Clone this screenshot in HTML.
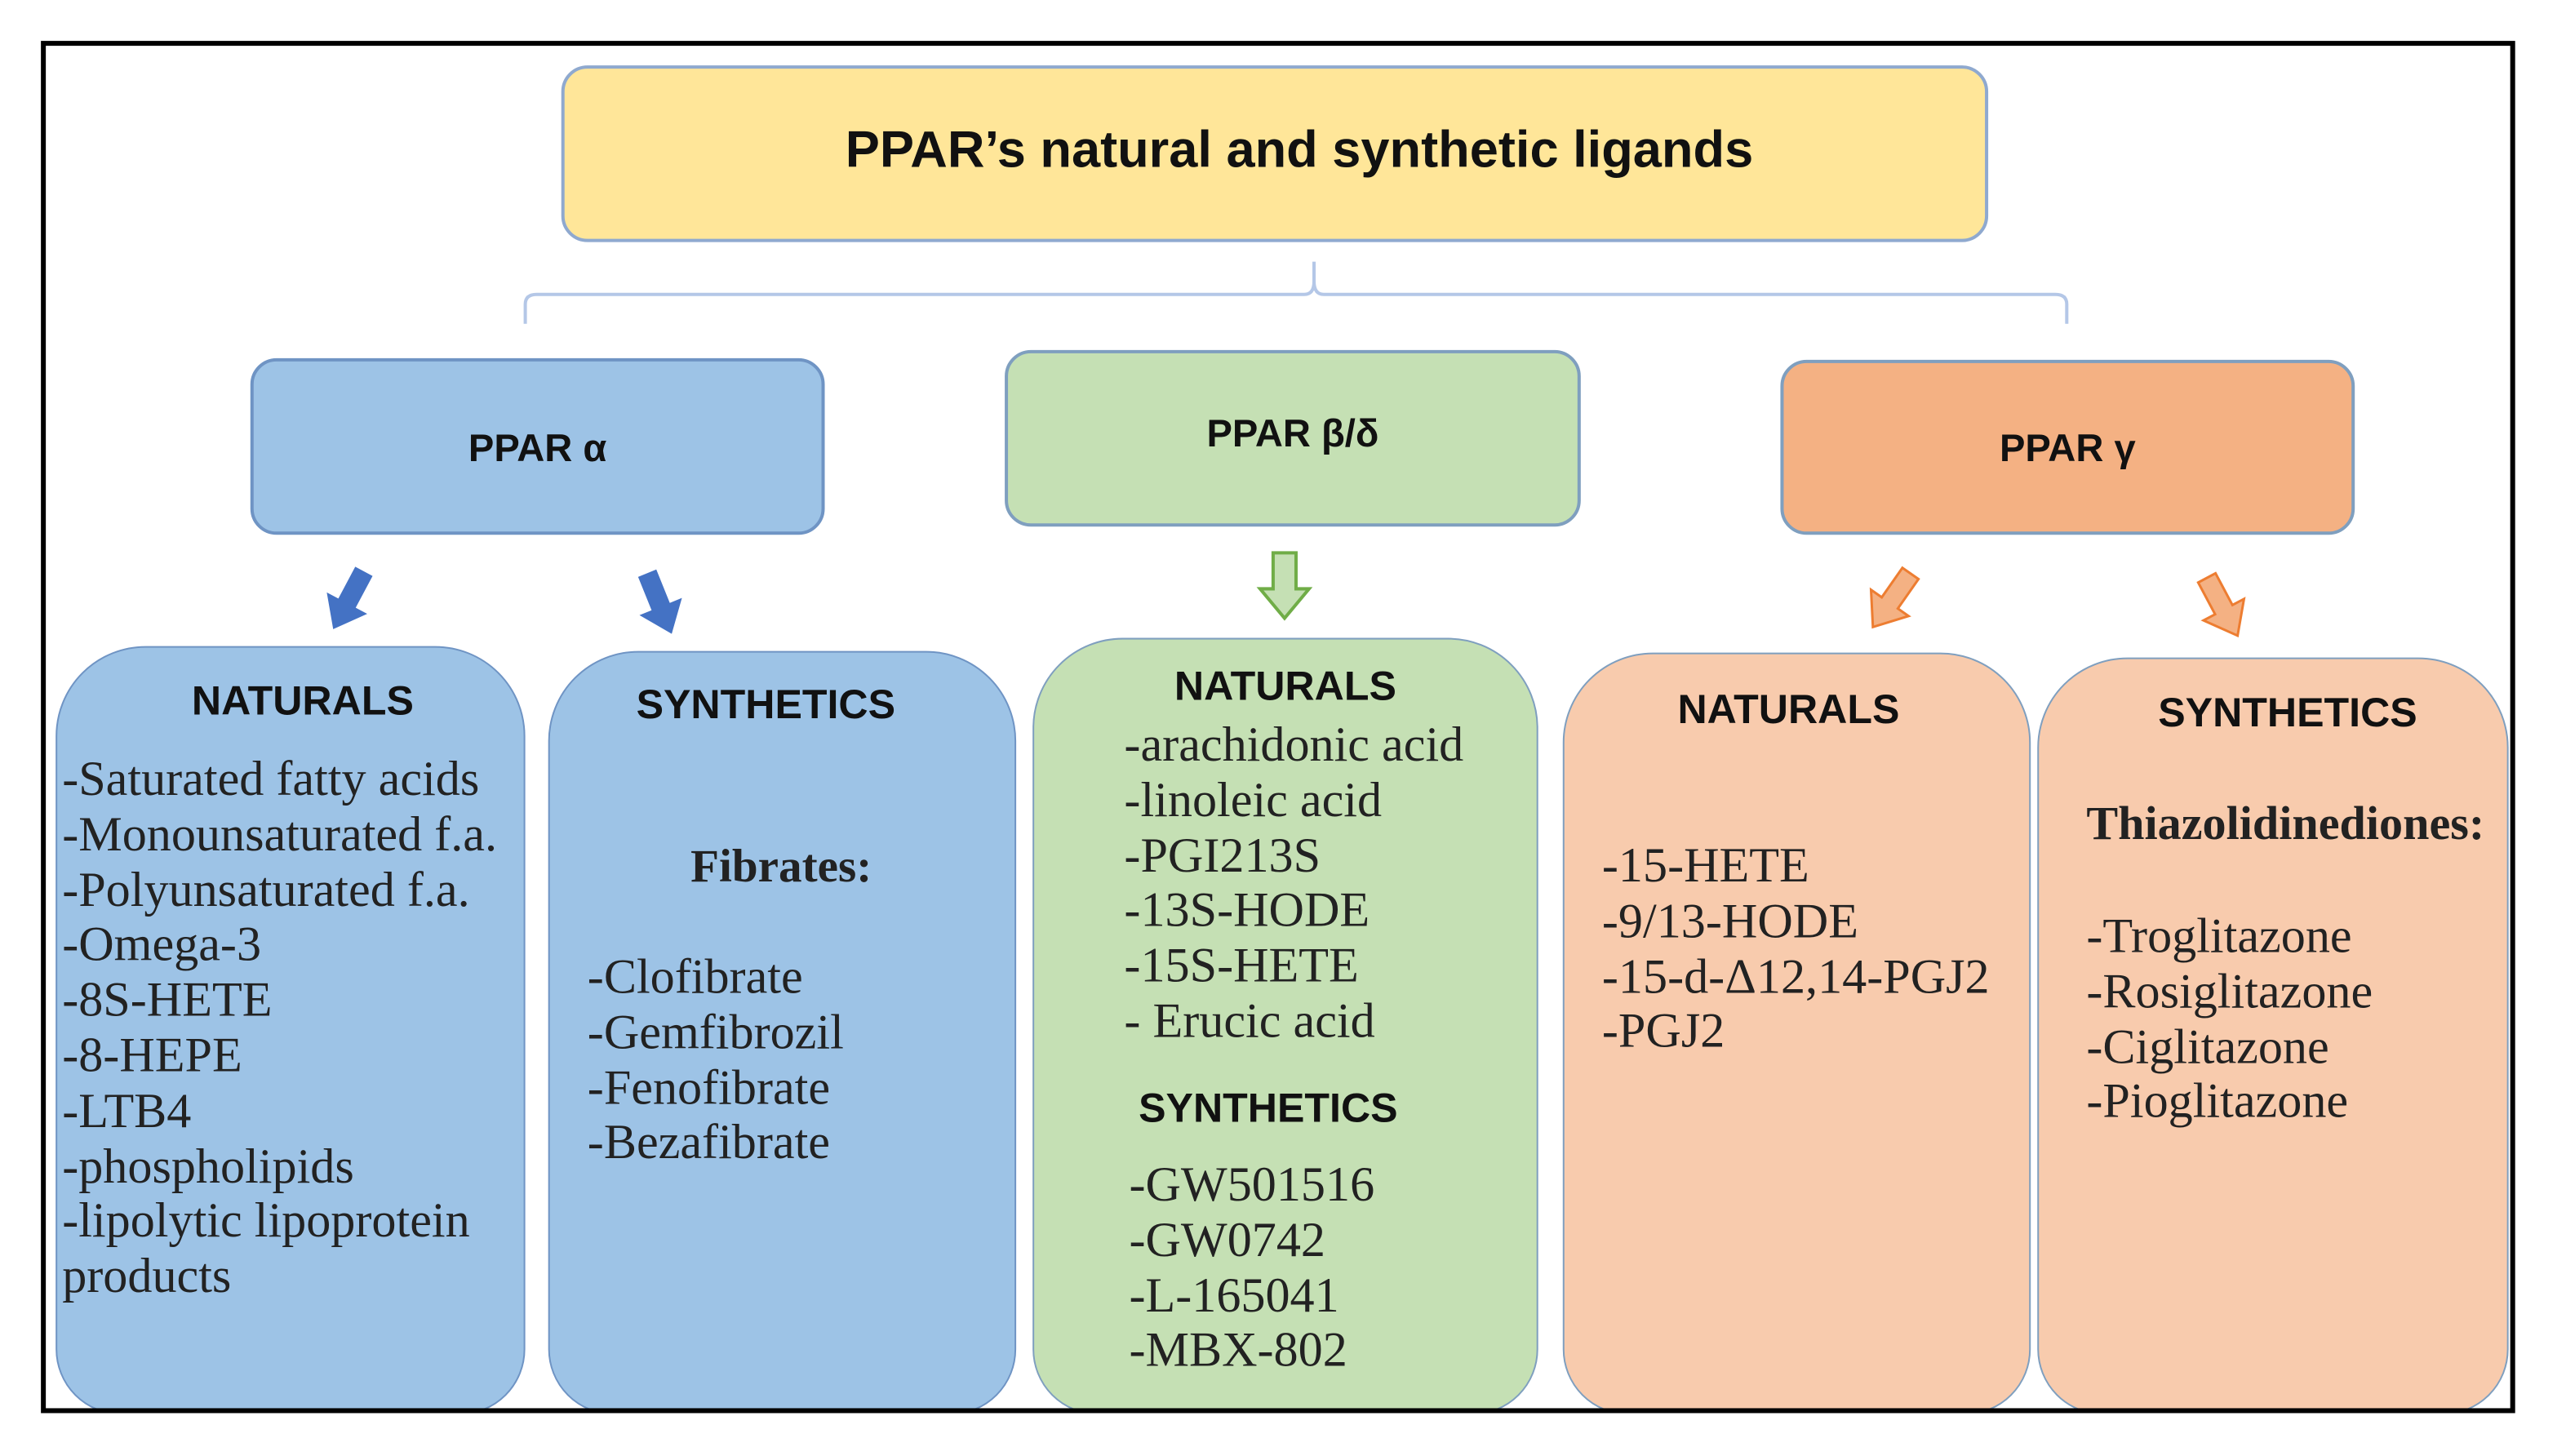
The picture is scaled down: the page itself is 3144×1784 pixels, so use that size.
<!DOCTYPE html>
<html><head><meta charset="utf-8"><style>
html,body{margin:0;padding:0;background:#fff;}
body{width:3144px;height:1784px;overflow:hidden;position:relative;}
#c{position:absolute;left:0;top:0;width:1560px;height:886px;transform:scale(2.005,2.004);transform-origin:0 0;}
.b{position:absolute;box-sizing:border-box;}
.s{font-family:"Liberation Sans",sans-serif;font-weight:bold;color:#111;position:absolute;white-space:nowrap;}
.t{font-family:"Liberation Serif",serif;color:#222;position:absolute;white-space:nowrap;font-size:30px;line-height:33.8px;}
.ttl{font-family:"Liberation Serif",serif;font-weight:bold;color:#222;position:absolute;white-space:nowrap;font-size:28.5px;}
</style></head><body><div id="c">
<div class="b" style="left:343px;top:40px;width:872px;height:108px;background:#FFE699;border:2px solid #8fa9cf;border-radius:16px;"></div>
<div class="s" style="left:358px;width:872px;top:73px;text-align:center;font-size:31.5px;">PPAR’s natural and synthetic ligands</div>
<svg class="b" style="left:0;top:0" width="1560" height="886">
<path d="M321,198 L321,186 Q321,180 328,180 L797,180 Q803,180 803,172 L803,160 M803,172 Q803,180 809,180 L1256,180 Q1263,180 1263,186 L1263,198" fill="none" stroke="#b4c7e7" stroke-width="2"/>
<g transform="translate(213,367) rotate(28)"><polygon points="-6,-20 6,-20 6,2 14,2 0,20 -14,2 -6,2" fill="#4472C4"/></g>
<g transform="translate(403,369) rotate(-22)"><polygon points="-6,-20 6,-20 6,2 14,2 0,20 -14,2 -6,2" fill="#4472C4"/></g>
<polygon points="778,338 792,338 792,360 800,360 785,378 770,360 778,360" fill="#C5E0B4" stroke="#70AD47" stroke-width="2"/>
<g transform="translate(1156,367) rotate(35)"><polygon points="-6,-20 6,-20 6,2 14,2 0,20 -14,2 -6,2" fill="#F4B183" stroke="#ED7D31" stroke-width="1.5"/></g>
<g transform="translate(1358,371) rotate(-28)"><polygon points="-6,-20 6,-20 6,2 14,2 0,20 -14,2 -6,2" fill="#F4B183" stroke="#ED7D31" stroke-width="1.5"/></g>
</svg>
<div class="b" style="left:153px;top:219px;width:351px;height:108px;background:#9DC3E6;border:2px solid #6f94c4;border-radius:16px;"></div>
<div class="s" style="left:153px;width:351px;top:261px;text-align:center;font-size:23.5px;">PPAR α</div>
<div class="b" style="left:614px;top:214px;width:352px;height:108px;background:#C5E0B4;border:2px solid #7f9fbf;border-radius:16px;"></div>
<div class="s" style="left:614px;width:352px;top:252px;text-align:center;font-size:23.5px;">PPAR β/δ</div>
<div class="b" style="left:1088px;top:220px;width:351px;height:107px;background:#F4B183;border:2px solid #7f9fbf;border-radius:16px;"></div>
<div class="s" style="left:1088px;width:351px;top:261px;text-align:center;font-size:23.5px;">PPAR γ</div>
<div class="b" style="left:34px;top:395px;width:287px;height:470px;background:#9DC3E6;border:1.5px solid #6f94c4;border-radius:55px 55px 40px 40px;"></div>
<div class="b" style="left:335px;top:398px;width:286px;height:467px;background:#9DC3E6;border:1.5px solid #6f94c4;border-radius:55px 55px 40px 40px;"></div>
<div class="b" style="left:631px;top:390px;width:309px;height:475px;background:#C5E0B4;border:1.5px solid #7f9fbf;border-radius:55px 55px 40px 40px;"></div>
<div class="b" style="left:955px;top:399px;width:286px;height:466px;background:#F8CBAD;border:1.5px solid #7f9fbf;border-radius:55px 55px 40px 40px;"></div>
<div class="b" style="left:1245px;top:402px;width:288px;height:463px;background:#F8CBAD;border:1.5px solid #7f9fbf;border-radius:55px 55px 40px 40px;"></div>
<div class="s" style="left:34px;width:302px;top:415px;text-align:center;font-size:25px;">NATURALS</div>
<div class="t" style="left:38px;top:460px;">-Saturated fatty acids<br>-Monounsaturated f.a.<br>-Polyunsaturated f.a.<br>-Omega-3<br>-8S-HETE<br>-8-HEPE<br>-LTB4<br>-phospholipids<br>-lipolytic lipoprotein<br>products</div>
<div class="s" style="left:335px;width:266px;top:417px;text-align:center;font-size:25px;">SYNTHETICS</div>
<div class="ttl" style="left:422px;top:515px;">Fibrates:</div>
<div class="t" style="left:359px;top:581px;">-Clofibrate<br>-Gemfibrozil<br>-Fenofibrate<br>-Bezafibrate</div>
<div class="s" style="left:631px;width:309px;top:406px;text-align:center;font-size:25px;">NATURALS</div>
<div class="t" style="left:687px;top:439px;">-arachidonic acid<br>-linoleic acid<br>-PGI213S<br>-13S-HODE<br>-15S-HETE<br>- Erucic acid</div>
<div class="s" style="left:631px;width:288px;top:664px;text-align:center;font-size:25px;">SYNTHETICS</div>
<div class="t" style="left:690px;top:708px;">-GW501516<br>-GW0742<br>-L-165041<br>-MBX-802</div>
<div class="s" style="left:955px;width:276px;top:420px;text-align:center;font-size:25px;">NATURALS</div>
<div class="t" style="left:979px;top:513px;">-15-HETE<br>-9/13-HODE<br>-15-d-Δ12,14-PGJ2<br>-PGJ2</div>
<div class="s" style="left:1245px;width:306px;top:422px;text-align:center;font-size:25px;">SYNTHETICS</div>
<div class="ttl" style="left:1275px;top:488px;font-size:29px;">Thiazolidinediones:</div>
<div class="t" style="left:1275px;top:556px;">-Troglitazone<br>-Rosiglitazone<br>-Ciglitazone<br>-Pioglitazone</div>
<div class="b" style="left:0;top:862px;width:1560px;height:24px;background:#fff;"></div>
<div class="b" style="left:1535px;top:0;width:25px;height:886px;background:#fff;"></div>
<div class="b" style="left:25px;top:25px;width:1512px;height:839px;border:3px solid #000;"></div>
</div></body></html>
